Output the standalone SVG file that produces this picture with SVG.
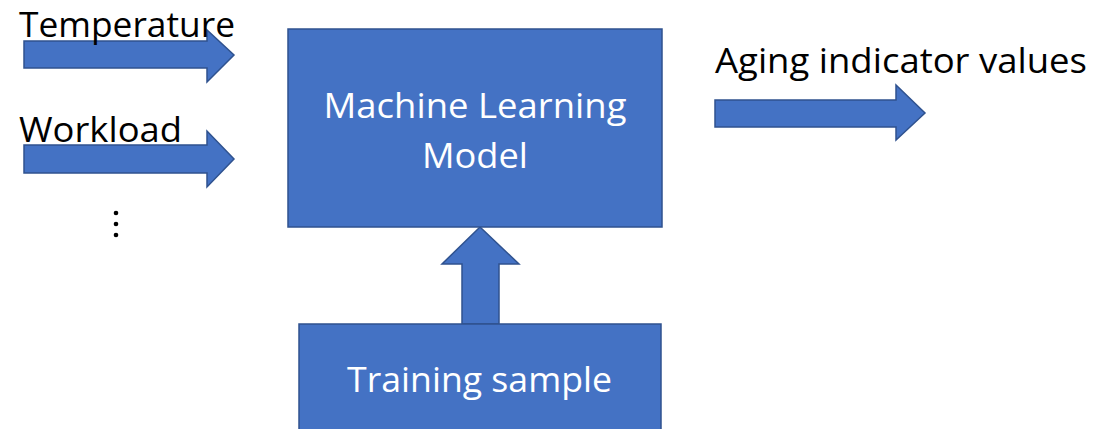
<svg xmlns="http://www.w3.org/2000/svg" width="1097" height="429" viewBox="0 0 1097 429">
<style>
.shape{fill:#4472C4;stroke:#2F528F;stroke-width:1.5}
.lbl{font-family:"Open Sans","Liberation Sans",sans-serif;font-size:35px;fill:#000}
.in{font-family:"Open Sans","Liberation Sans",sans-serif;font-size:35px;fill:#fff;text-anchor:middle}
</style>
<rect width="1097" height="429" fill="#fff"/>
<g id="connectors">
<path class="shape" d="M24,41 H207 V30 L234,55 L207,82 V68 H24 Z"/>
<path class="shape" d="M24,145 H207 V131 L234,159 L207,187 V173 H24 Z"/>
<path class="shape" d="M715,100 H896 V85 L925,113 L896,140 V127 H715 Z"/>
<path class="shape" d="M462,324 V264 H442 L480,227 L519,264 H499 V324 Z"/>
</g>
<g id="node-temperature"><text class="lbl" x="19" y="37" textLength="216" lengthAdjust="spacingAndGlyphs">Temperature</text></g>
<g id="node-workload"><text class="lbl" x="19" y="142" textLength="163" lengthAdjust="spacingAndGlyphs">Workload</text></g>
<g id="node-dots"><circle cx="116" cy="213" r="2.3"/><circle cx="116" cy="224" r="2.3"/><circle cx="116" cy="235" r="2.3"/></g>
<g id="node-model">
<rect class="shape" x="288" y="29" width="374" height="198"/>
<text class="in" x="475" y="118" textLength="303" lengthAdjust="spacingAndGlyphs">Machine Learning</text>
<text class="in" x="475" y="168" textLength="106" lengthAdjust="spacingAndGlyphs">Model</text>
</g>
<g id="node-training">
<rect class="shape" x="299" y="324" width="362" height="120"/>
<text class="in" x="479.5" y="392" textLength="265" lengthAdjust="spacingAndGlyphs">Training sample</text>
</g>
<g id="node-aging"><text class="lbl" x="715" y="73" textLength="372" lengthAdjust="spacingAndGlyphs">Aging indicator values</text></g>
</svg>
